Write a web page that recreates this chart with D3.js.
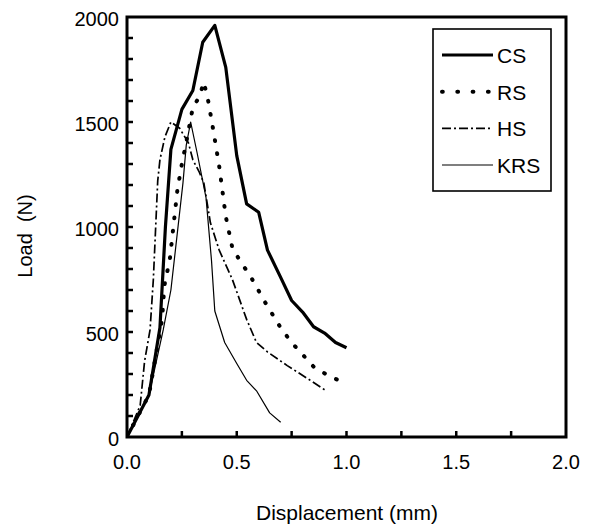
<!DOCTYPE html>
<html>
<head>
<meta charset="utf-8">
<script src="https://cdn.jsdelivr.net/npm/d3@7"></script>
<style>
  html, body { margin: 0; padding: 0; background: #fff; }
  svg { display: block; }
  text { font-family: "Liberation Sans", Arial, sans-serif; fill: #000; }
</style>
</head>
<body>
<svg id="chart" width="591" height="529"></svg>
<script>
// ---- data ----
const seriesNames = ["CS", "RS", "HS", "KRS"];

const csDisp = [0, 0.1, 0.15, 0.175, 0.2, 0.25, 0.3, 0.345, 0.4, 0.45, 0.5, 0.545, 0.6, 0.64, 0.7, 0.75, 0.8, 0.85, 0.9, 0.95, 1.0];
const csLoad = [0, 200, 520, 1000, 1370, 1560, 1650, 1880, 1960, 1760, 1340, 1110, 1070, 890, 760, 650, 595, 525, 495, 450, 425];

const rsDisp = [0, 0.1, 0.16, 0.17, 0.195, 0.23, 0.25, 0.275, 0.3, 0.33, 0.35, 0.37, 0.39, 0.42, 0.45, 0.48, 0.52, 0.56, 0.63, 0.7, 0.75, 0.85, 0.92, 1.0];
const rsLoad = [0, 200, 560, 720, 845, 1180, 1300, 1430, 1570, 1620, 1690, 1600, 1480, 1290, 1050, 900, 830, 770, 640, 520, 450, 335, 290, 255];

const hsDisp = [0, 0.06, 0.08, 0.105, 0.12, 0.14, 0.15, 0.173, 0.2, 0.24, 0.28, 0.3, 0.33, 0.35, 0.38, 0.42, 0.48, 0.545, 0.59, 0.64, 0.73, 0.82, 0.9];
const hsLoad = [0, 150, 360, 510, 750, 1220, 1320, 1430, 1500, 1470, 1400, 1320, 1260, 1210, 1020, 890, 750, 560, 450, 405, 340, 280, 225];

const krsDisp = [0, 0.1, 0.165, 0.2, 0.255, 0.27, 0.29, 0.32, 0.36, 0.385, 0.4, 0.445, 0.5, 0.545, 0.59, 0.65, 0.7];
const krsLoad = [0, 200, 510, 700, 1210, 1390, 1500, 1350, 1140, 840, 600, 450, 350, 270, 220, 115, 70];

const xTicks = [0, 0.5, 1.0, 1.5, 2.0];
const xMinorTicks = [0.25, 0.5, 0.75, 1.0, 1.25, 1.5, 1.75];
const yTicks = [0, 500, 1000, 1500, 2000];
const yMinorTicks = d3.range(100, 2000, 100);

const xTitle = "Displacement (mm)";
const yTitle = "Load\u00a0\u00a0(N)";

// ---- layout ----
const mLeft = 127, mRight = 566, mTop = 17, mBottom = 437;
const svg = d3.select("#chart");

const x = d3.scaleLinear().domain([0, 2]).range([mLeft, mRight]);
const y = d3.scaleLinear().domain([0, 2000]).range([mBottom, mTop]);

// ---- styles per series ----
const styles = {
  CS:  { width: 3.2, dash: null, cap: "butt" },
  RS:  { width: 4,   dash: "0.8,12.5", cap: "round" },
  HS:  { width: 1.7, dash: "9,3,2,3", cap: "butt" },
  KRS: { width: 1.2, dash: null, cap: "butt" }
};

const data = {
  CS:  csDisp.map((d, i) => [d, csLoad[i]]),
  RS:  rsDisp.map((d, i) => [d, rsLoad[i]]),
  HS:  hsDisp.map((d, i) => [d, hsLoad[i]]),
  KRS: krsDisp.map((d, i) => [d, krsLoad[i]])
};

const line = d3.line().x(d => x(d[0])).y(d => y(d[1]));

// ---- series lines ----
svg.append("clipPath").attr("id", "clip")
  .append("rect").attr("x", mLeft).attr("y", mTop).attr("width", mRight - mLeft).attr("height", mBottom - mTop);

const gLines = svg.append("g").attr("clip-path", "url(#clip)");
seriesNames.forEach(name => {
  const s = styles[name];
  gLines.append("path")
    .datum(data[name])
    .attr("d", line)
    .attr("fill", "none")
    .attr("stroke", "#000")
    .attr("stroke-width", s.width)
    .attr("stroke-linecap", s.cap)
    .attr("stroke-linejoin", "round")
    .attr("stroke-dasharray", s.dash);
});

// frame
svg.append("rect")
  .attr("x", mLeft).attr("y", mTop)
  .attr("width", mRight - mLeft).attr("height", mBottom - mTop)
  .attr("fill", "none").attr("stroke", "#000").attr("stroke-width", 3);

// ---- inward ticks ----
svg.append("g").selectAll("line").data(yMinorTicks).join("line")
  .attr("x1", mLeft).attr("x2", mLeft + 6)
  .attr("y1", d => y(d)).attr("y2", d => y(d))
  .attr("stroke", "#000").attr("stroke-width", 2.5);

svg.append("g").selectAll("line").data(xMinorTicks).join("line")
  .attr("x1", d => x(d)).attr("x2", d => x(d))
  .attr("y1", mBottom).attr("y2", mBottom - 6)
  .attr("stroke", "#000").attr("stroke-width", 2.5);

// tick labels
svg.append("g").selectAll("text").data(yTicks).join("text")
  .attr("x", mLeft - 8)
  .attr("y", d => y(d) + 9)
  .attr("text-anchor", "end")
  .attr("font-size", 20)
  .text(d => d);

svg.append("g").selectAll("text").data(xTicks).join("text")
  .attr("x", d => x(d))
  .attr("y", 469)
  .attr("text-anchor", "middle")
  .attr("font-size", 20)
  .text(d => d3.format(".1f")(d));

// axis titles
svg.append("text")
  .attr("x", 347).attr("y", 520)
  .attr("text-anchor", "middle")
  .attr("font-size", 21)
  .text(xTitle);

svg.append("text")
  .attr("transform", "translate(32,236) rotate(-90)")
  .attr("text-anchor", "middle")
  .attr("font-size", 20)
  .text(yTitle);

// ---- legend ----
const lg = svg.append("g");
lg.append("rect")
  .attr("x", 433).attr("y", 29).attr("width", 118).attr("height", 162)
  .attr("fill", "#fff").attr("stroke", "#000").attr("stroke-width", 1.6);

const legendY = d3.scalePoint().domain(seriesNames).range([55, 165]);
seriesNames.forEach(name => {
  const s = styles[name];
  const yy = legendY(name);
  lg.append("line")
    .attr("x1", 442).attr("x2", 493)
    .attr("y1", yy).attr("y2", yy)
    .attr("stroke", "#000")
    .attr("stroke-width", s.width)
    .attr("stroke-linecap", s.cap)
    .attr("stroke-dasharray", name === "RS" ? "0.8,14.5" : s.dash);
  lg.append("text")
    .attr("x", 497).attr("y", yy + 8)
    .attr("font-size", 21)
    .text(name);
});
</script>
</body>
</html>
